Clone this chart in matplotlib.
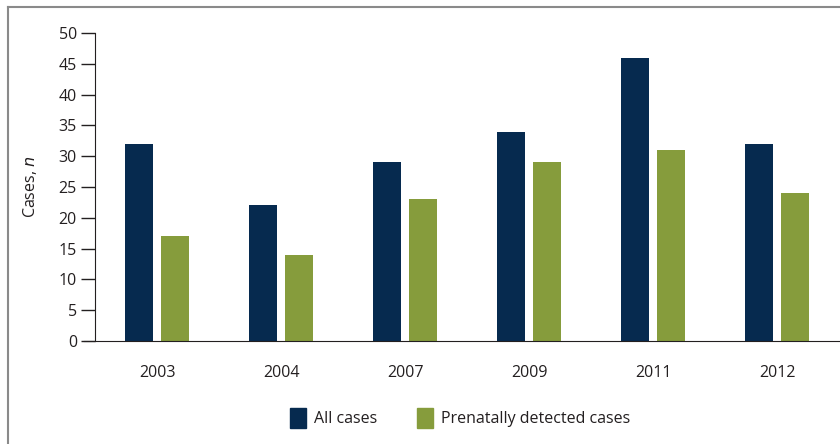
import matplotlib
matplotlib.use("Agg")
import matplotlib.pyplot as plt
from matplotlib.lines import Line2D
from matplotlib.patches import Patch
import numpy as np

years = ["2003", "2004", "2007", "2009", "2011", "2012"]
all_cases = [32, 22, 29, 34, 46, 32]
prenatal_cases = [17, 14, 23, 29, 31, 24]

plt.rcParams['font.family'] = ['Open Sans', 'DejaVu Sans']

NAVY = "#062a4f"
GREEN = "#869c3c"
TXT = "#231f20"

fig = plt.figure(figsize=(8.4, 4.44), dpi=100)
ax = fig.add_axes([95/840, 1-341/444, 744/840, 308/444])

x = np.arange(len(years))
w = 0.226
ax.bar(x - 0.146, all_cases, w, color=NAVY, label="All cases")
ax.bar(x + 0.146, prenatal_cases, w, color=GREEN, label="Prenatally detected cases")

ax.set_xlim(-0.5, len(years) - 0.5)
ax.set_ylim(0, 50)
ax.set_yticks(np.arange(0, 51, 5))
ax.set_xticks(x)
ax.set_xticklabels(years)
ax.tick_params(axis='y', length=10, width=1, color=TXT, labelsize=11.5, labelcolor=TXT, pad=3)
ax.tick_params(axis='x', length=0, labelsize=11.5, labelcolor=TXT, pad=17)
for s in ['top', 'right']:
    ax.spines[s].set_visible(False)
ax.spines['left'].set_color(TXT)
ax.spines['bottom'].set_color(TXT)
ax.spines['bottom'].set_bounds(-0.5 - 11/124, len(years) - 0.5)
ax.spines['bottom'].set_clip_on(False)

fig.text(30/840, 1-187/444, "Cases, $\\it{n}$", rotation=90, ha='center', va='center',
         fontsize=11.5, color=TXT)

handles = [Patch(color=NAVY, label="All cases"), Patch(color=GREEN, label="Prenatally detected cases")]
fig.legend(handles=handles, loc='center', bbox_to_anchor=(460/840, 1-418/444), ncol=2,
           frameon=False, fontsize=11.5, handlelength=1.0, handleheight=1.6,
           handletextpad=0.5, columnspacing=2.5, labelcolor=TXT)

# outer frame (top and left only)
fig.add_artist(Line2D([8/840, 1], [1-7/444, 1-7/444], color="#8a8a8a", lw=1.5))
fig.add_artist(Line2D([8/840, 8/840], [0, 1-7/444], color="#8a8a8a", lw=1.5))

fig.savefig("out.png", dpi=100)
